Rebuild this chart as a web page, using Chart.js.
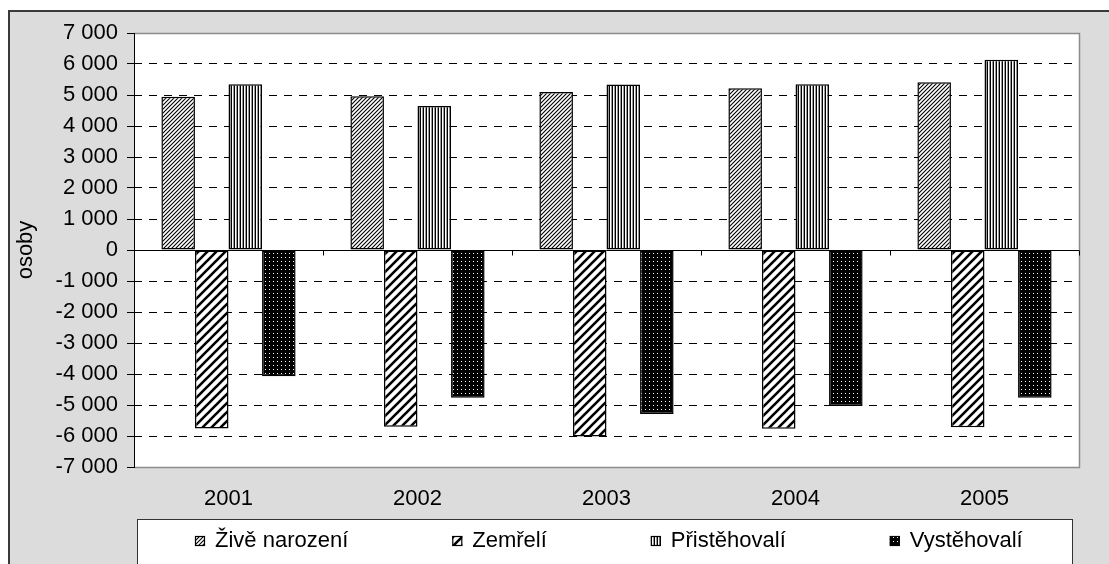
<!DOCTYPE html>
<html>
<head>
<meta charset="utf-8">
<script src="https://cdn.jsdelivr.net/npm/chart.js@4/dist/chart.umd.min.js"></script>
<style>
  html, body { margin: 0; padding: 0; overflow: hidden; background: #fff; }
  #frame { position: absolute; left: 8px; top: 10px; width: 1200px; height: 700px;
           background: #dcdcdc; border-left: 2px solid #3a3a3a; border-top: 2px solid #3a3a3a; }
  #graf { position: absolute; left: 0; top: 0; }
</style>
</head>
<body>
<div id="frame"></div>
<canvas id="graf" width="1109" height="564"></canvas>
<script>
// data
const roky = ['2001', '2002', '2003', '2004', '2005'];
const ziveNarozeni = [4940, 4960, 5100, 5220, 5410];
const zemreli = [-5760, -5700, -6020, -5770, -5720];
const pristehovali = [5345, 4645, 5340, 5345, 6140];
const vystehovali = [-4070, -4770, -5290, -5030, -4770];
const nazvy = ['Živě narození', 'Zemřelí', 'Přistěhovalí', 'Vystěhovalí'];

const FONT = "'Liberation Sans', Arial, sans-serif";
const VEL = 22;

// hatch patterns, like in the Excel chart
function vzor(typ) {
    const c = document.createElement('canvas');
    const g = c.getContext('2d');
    if (typ === 'jemne') {
        c.width = 4; c.height = 4;
        g.fillStyle = '#fff'; g.fillRect(0, 0, 4, 4);
        g.strokeStyle = '#000'; g.lineWidth = 1.1;
        g.beginPath();
        g.moveTo(-1, 5); g.lineTo(5, -1);
        g.moveTo(-1, 1); g.lineTo(1, -1);
        g.moveTo(3, 5); g.lineTo(5, 3);
        g.stroke();
    } else if (typ === 'siroke') {
        c.width = 9; c.height = 9;
        g.fillStyle = '#fff'; g.fillRect(0, 0, 9, 9);
        g.strokeStyle = '#000'; g.lineWidth = 2.6;
        g.beginPath();
        g.moveTo(-2, 11); g.lineTo(11, -2);
        g.moveTo(-2, 2); g.lineTo(2, -2);
        g.moveTo(7, 11); g.lineTo(11, 7);
        g.stroke();
    } else if (typ === 'svisle') {
        c.width = 3; c.height = 3;
        g.fillStyle = '#fff'; g.fillRect(0, 0, 3, 3);
        g.fillStyle = '#000'; g.fillRect(0, 0, 1, 3);
        g.fillStyle = '#9a9a9a'; g.fillRect(2, 0, 1, 3);
    } else {
        c.width = 4; c.height = 4;
        g.fillStyle = '#000'; g.fillRect(0, 0, 4, 4);
        g.fillStyle = '#fff'; g.fillRect(1, 1, 1, 1);
    }
    const ctx = document.getElementById('graf').getContext('2d');
    return ctx.createPattern(c, 'repeat');
}

const vzory = [vzor('jemne'), vzor('siroke'), vzor('svisle'), vzor('tecky')];

function cislo(v) {
    const s = Math.abs(v).toString().replace(/\B(?=(\d{3})+(?!\d))/g, ' ');
    return (v < 0 ? '-' : '') + s;
}

// white plot area, frame, zero line with category ticks, legend box
const ramecek = {
    id: 'ramecek',
    beforeDraw(chart) {
        const a = chart.chartArea, c = chart.ctx;
        c.save();
        c.fillStyle = '#fff';
        c.fillRect(a.left, a.top, a.right - a.left, a.bottom - a.top);
        c.restore();
    },
    afterDatasetsDraw(chart) {
        const a = chart.chartArea, c = chart.ctx;
        const x = chart.scales.x, y = chart.scales.y;
        c.save();
        c.strokeStyle = '#8c8c8c';
        c.lineWidth = 1.5;
        c.beginPath();
        c.moveTo(a.left, a.top + 0.5); c.lineTo(a.right + 0.5, a.top + 0.5);
        c.lineTo(a.right + 0.5, a.bottom + 0.5); c.lineTo(a.left, a.bottom + 0.5);
        c.stroke();
        c.strokeStyle = '#000';
        c.lineWidth = 1;
        c.beginPath();
        c.moveTo(a.left + 0.5, a.top); c.lineTo(a.left + 0.5, a.bottom + 1);
        const y0 = Math.round(y.getPixelForValue(0)) + 0.5;
        c.moveTo(a.left, y0); c.lineTo(a.right, y0);
        for (let i = 0; i <= roky.length; i++) {
            const xp = Math.round(x.getPixelForValue(i - 0.5)) + 0.5;
            c.moveTo(xp, y0); c.lineTo(xp, y0 + 5);
        }
        c.stroke();
        c.restore();
    },
    afterDraw(chart) {
        const c = chart.ctx;
        const bx = 137, by = 519, bw = 935, bh = 60;
        c.save();
        c.fillStyle = '#fff';
        c.fillRect(bx, by, bw, bh);
        c.strokeStyle = '#333';
        c.lineWidth = 1;
        c.strokeRect(bx + 0.5, by + 0.5, bw, bh);
        c.font = VEL + 'px ' + FONT;
        c.textBaseline = 'middle';
        const mezera = 104, box = 10, odsaz = 10;
        const sirky = chart.data.datasets.map(d => box + odsaz + c.measureText(d.label).width);
        const celkem = sirky.reduce((s, w) => s + w, 0) + mezera * (sirky.length - 1);
        let xp = Math.round(bx + bw / 2 - celkem / 2 + 4);
        const yc = 541;
        chart.data.datasets.forEach((d, i) => {
            c.fillStyle = d.backgroundColor;
            c.fillRect(xp, yc - 5, box, box);
            c.strokeStyle = '#000';
            c.lineWidth = 1.2;
            c.strokeRect(xp + 0.5, yc - 5 + 0.5, box - 1, box - 1);
            c.fillStyle = '#000';
            c.fillText(d.label, xp + box + odsaz, yc);
            xp += sirky[i] + mezera;
        });
        c.restore();
    }
};

const serie = [ziveNarozeni, zemreli, pristehovali, vystehovali];

new Chart(document.getElementById('graf'), {
    type: 'bar',
    data: {
        labels: roky,
        datasets: serie.map((d, i) => ({
            label: nazvy[i],
            data: d,
            backgroundColor: vzory[i],
            borderColor: '#000',
            borderWidth: 1.5,
            borderSkipped: false,
            categoryPercentage: 0.71,
            barPercentage: 1
        }))
    },
    options: {
        responsive: false,
        animation: false,
        devicePixelRatio: 1,
        layout: { padding: { top: 33, right: 30, bottom: 0, left: 0 } },
        plugins: {
            legend: { display: false },
            tooltip: { enabled: false }
        },
        scales: {
            x: {
                grid: { display: false, drawTicks: false },
                border: { display: false },
                ticks: { color: '#000', font: { family: FONT, size: VEL }, padding: 19, maxRotation: 0 },
                afterFit: s => { s.height = 97; }
            },
            y: {
                min: -7000,
                max: 7000,
                ticks: {
                    stepSize: 1000,
                    color: '#000',
                    font: { family: FONT, size: VEL },
                    padding: 9,
                    callback: v => cislo(v)
                },
                grid: {
                    color: c => (c.tick && Math.abs(c.tick.value) % 7000 === 0) ? 'rgba(0,0,0,0)' : '#000',
                    lineWidth: 1,
                    drawTicks: true,
                    tickLength: 7,
                    tickColor: '#000',
                    tickWidth: 1,
                    tickBorderDash: []
                },
                border: { display: false, dash: [8, 7] },
                title: {
                    display: true,
                    text: 'osoby',
                    color: '#000',
                    font: { family: FONT, size: VEL },
                    padding: { top: 13, bottom: 0 }
                },
                afterFit: s => { s.width = 134; }
            }
        }
    },
    plugins: [ramecek]
});
</script>
</body>
</html>
